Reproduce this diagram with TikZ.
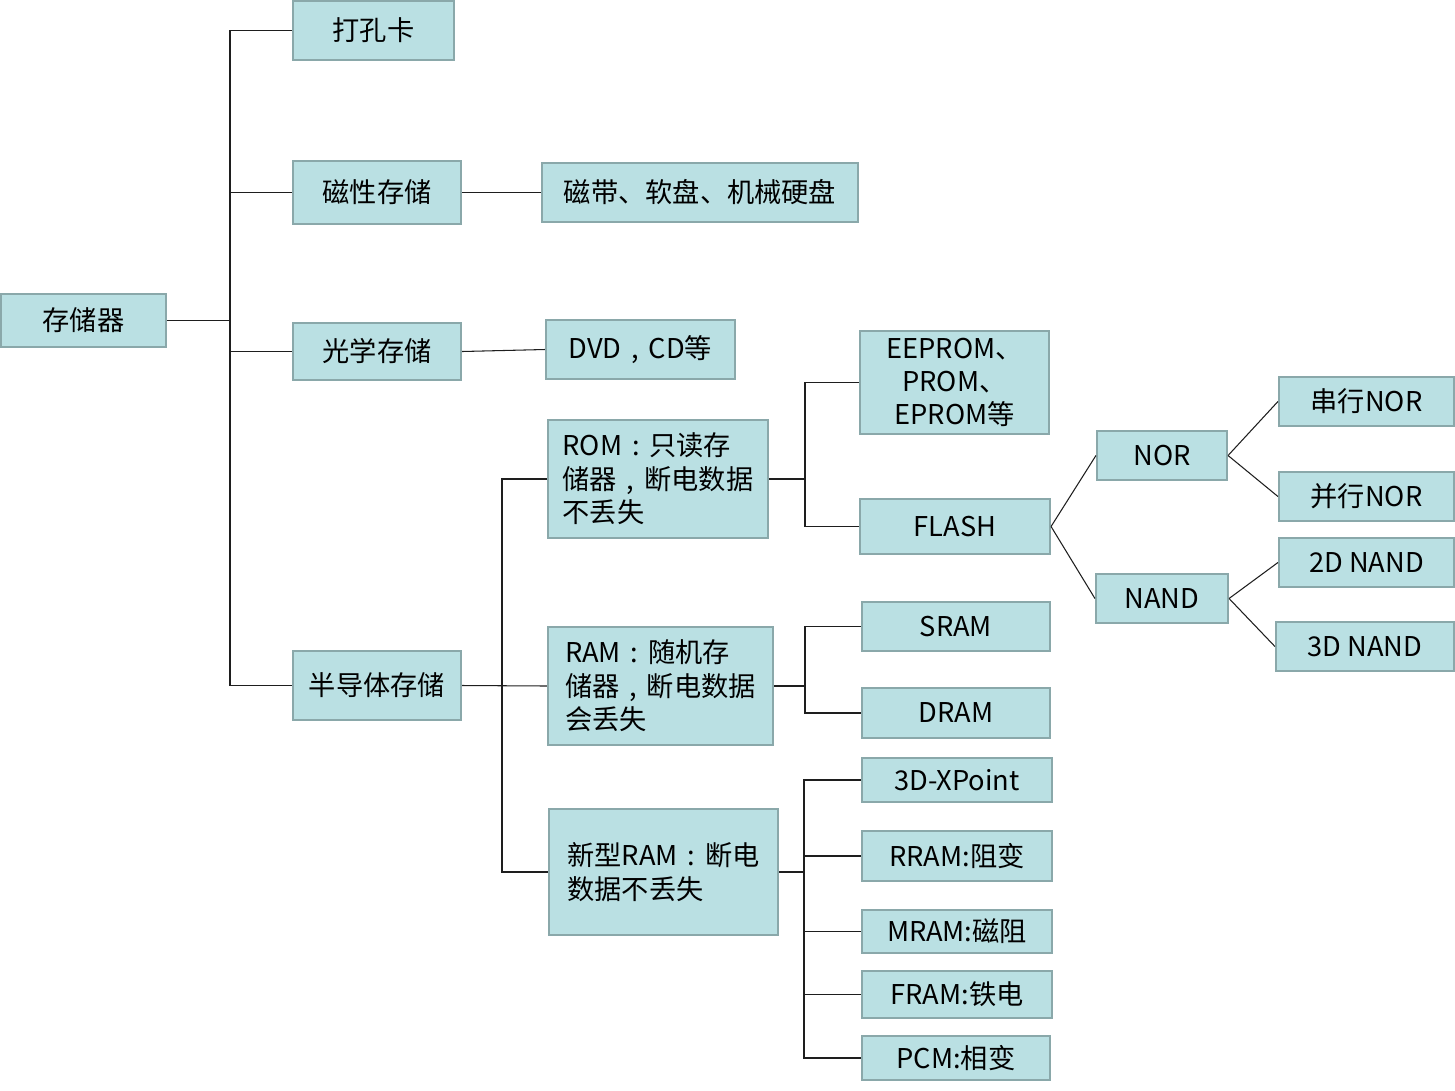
\documentclass[tikz,border=0pt]{standalone}
\usepackage{fontspec}
\setmainfont{Noto Sans CJK SC}
\newcommand{\qcolon}{\makebox[1em]{:}}
\newcommand{\qcomma}{\makebox[1em]{,}}
\usetikzlibrary{positioning}
\definecolor{boxfill}{RGB}{186,224,227}
\definecolor{boxline}{RGB}{138,168,170}
\definecolor{wire}{RGB}{30,30,30}

\begin{document}
\begin{tikzpicture}[
  x=0.02cm, y=-0.02cm,
  box/.style={rectangle,draw=boxline,fill=boxfill,line width=1.2pt,
              inner sep=0pt,font=\fontsize{15.5}{19}\selectfont,align=center},
  sz/.style 2 args={minimum width=#1*0.02cm,minimum height=#2*0.02cm},
  link/.style={draw=wire,line width=0.6pt},
]
  \useasboundingbox (0,0) rectangle (1455,1090);

  %% level 0 and 1
  \node[box,sz={165}{53}] (mem) at (83.5,320.5) {存储器};
  \node[box,sz={161}{59}] (card) at (373.5,30.5) {打孔卡};
  \node[box,sz={168}{63}] (mag) at (377,192.5) {磁性存储};
  \node[box,sz={168}{57}] (opt) at (377,351.5) {光学存储};
  \node[box,sz={168}{69}] (semi) at (377,685.5) {半导体存储};

  %% level 2
  \node[box,sz={316}{59}] (disk) at (700,192.5) {磁带、软盘、机械硬盘};
  \node[box,sz={189}{59}] (dvd) at (640.5,349.5) {DVD\qcomma CD等};
  \node[box,sz={220}{118},align=left] (rom) at (658,479)
    {ROM\qcolon 只读存\\储器\qcomma 断电数据\\不丢失};
  \node[box,sz={225}{118},align=left] (ram) at (660.5,686)
    {RAM\qcolon 随机存\\储器\qcomma 断电数据\\会丢失};
  \node[box,sz={229}{126},align=left] (nram) at (663.5,872)
    {新型RAM\qcolon 断电\\数据不丢失};

  %% level 3
  \node[box,sz={189}{103}] (eep) at (954.5,382.5) {EEPROM、\\PROM、\\EPROM等};
  \node[box,sz={190}{55}] (flash) at (955,526.5) {FLASH};
  \node[box,sz={188}{49}] (sram) at (956,626.5) {SRAM};
  \node[box,sz={188}{50}] (dram) at (956,713) {DRAM};
  \node[box,sz={190}{44}] (xp) at (957,780) {3D-XPoint};
  \node[box,sz={190}{50}] (rram) at (957,856) {RRAM:阻变};
  \node[box,sz={190}{43}] (mram) at (957,931.5) {MRAM:磁阻};
  \node[box,sz={190}{47}] (fram) at (957,994.5) {FRAM:铁电};
  \node[box,sz={188}{44}] (pcm) at (956,1058) {PCM:相变};

  %% flash types
  \node[box,sz={130}{49}] (nor) at (1162,455.5) {NOR};
  \node[box,sz={132}{49}] (nand) at (1162,598.5) {NAND};
  \node[box,sz={175}{49}] (snor) at (1366.5,401.5) {串行NOR};
  \node[box,sz={175}{49}] (pnor) at (1366.5,496.5) {并行NOR};
  \node[box,sz={175}{49}] (nand2) at (1366.5,562.5) {2D NAND};
  \node[box,sz={178}{49}] (nand3) at (1365,646.5) {3D NAND};

  %% buses
  \coordinate (b0) at (230,320.5);
  \coordinate (b1) at (502,686);
  \coordinate (b2) at (805,479);
  \coordinate (b3) at (805,686);
  \coordinate (b4) at (804,872);

  \draw[link] (mem.east) -- (b0);
  \foreach \t in {card,mag,opt,semi}
    \draw[link] (b0) |- (\t.west);
  \draw[link] (mag.east) -- (disk.west);
  \draw[link] (opt.east) -- (dvd.west);

  \draw[link] (semi.east) -- (ram.west);
  \foreach \t in {rom,nram}
    \draw[link] (b1) |- (\t.west);

  \draw[link] (rom.east) -- (b2);
  \foreach \t in {eep,flash}
    \draw[link] (b2) |- (\t.west);
  \draw[link] (ram.east) -- (b3);
  \foreach \t in {sram,dram}
    \draw[link] (b3) |- (\t.west);
  \draw[link] (nram.east) -- (b4);
  \foreach \t in {xp,rram,mram,fram,pcm}
    \draw[link] (b4) |- (\t.west);

  \draw[link] (flash.east) -- (nor.west);
  \draw[link] (flash.east) -- (nand.west);
  \draw[link] (nor.east) -- (snor.west);
  \draw[link] (nor.east) -- (pnor.west);
  \draw[link] (nand.east) -- (nand2.west);
  \draw[link] (nand.east) -- (nand3.west);
\end{tikzpicture}
\end{document}
